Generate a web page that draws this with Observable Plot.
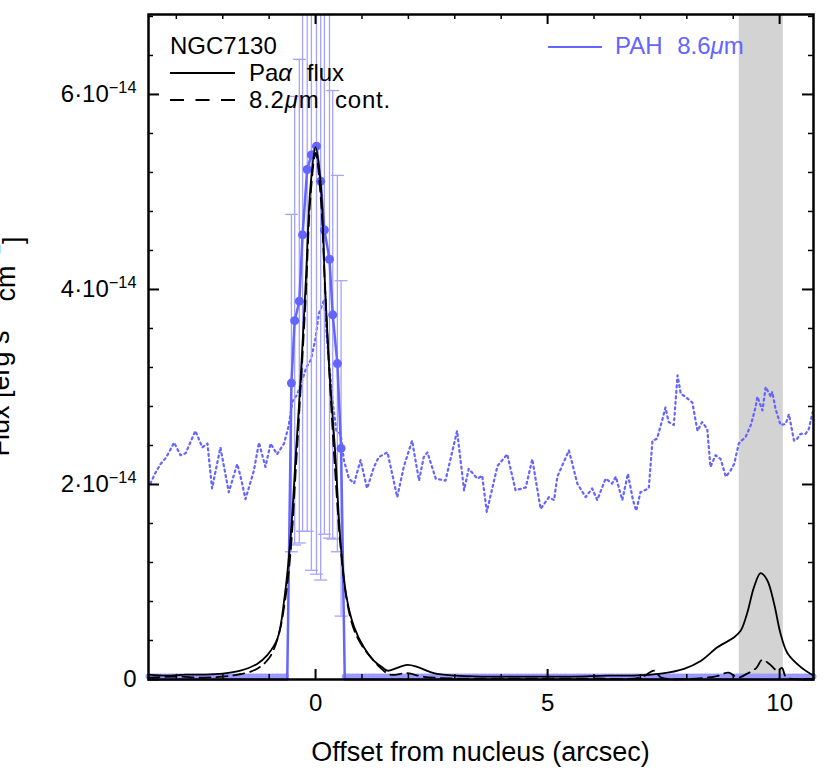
<!DOCTYPE html>
<html><head><meta charset="utf-8">
<script src="https://cdn.jsdelivr.net/npm/d3@7"></script>
<script src="https://cdn.jsdelivr.net/npm/@observablehq/plot@0.6"></script>
<style>body{margin:0;background:#fff}#chart{width:830px;height:772px}</style>
</head><body><div id="chart"></div>
<script>
// ---------- DATA (flux in units of 1e-14 erg s^-1 cm^-2, offsets in arcsec) ----------
const xDomain = [-3.6, 10.73];
const yDomain = [0, 6.82];
const xMajor = [0, 5, 10];
const xMinor = [-3, -2, -1, 1, 2, 3, 4, 6, 7, 8, 9];
const yMajor = [0, 2, 4, 6];
const yMinor = [0.4, 0.8, 1.2, 1.6, 2.4, 2.8, 3.2, 3.6, 4.4, 4.8, 5.2, 5.6, 6.4, 6.8];
const bandX1 = [9.13];
const bandX2 = [10.08];

// PAH 8.6um (blue, with errors)
const pahX   = [-3.60, -0.61, -0.52, -0.45, -0.35, -0.28, -0.18, -0.09, 0.02, 0.11, 0.19, 0.30, 0.37, 0.47, 0.55, 0.63, 10.73];
const pahY   = [0, 0, 3.04, 3.68, 3.88, 4.56, 5.23, 5.38, 5.47, 5.11, 4.61, 4.31, 3.74, 3.24, 2.37, 0, 0];
const pahErr = [0, 0, 1.73, 2.30, 2.48, 3.04, 3.71, 4.26, 4.39, 4.09, 3.12, 2.86, 2.30, 1.93, 1.72, 0, 0];

// Pa alpha flux (solid black)
const paaX = [-3.60,-3.20,-2.80,-2.40,-2.00,-1.62,-1.26,-1.04,-0.82,-0.67,-0.54,-0.42,-0.32,-0.21,-0.11,0.00,0.11,0.20,0.30,0.42,0.54,0.67,0.83,1.04,1.26,1.45,1.55,1.76,1.98,2.19,2.55,3.00,3.60,4.50,5.50,6.30,6.85,7.44,7.94,8.30,8.66,9.01,9.16,9.30,9.45,9.59,9.73,9.88,10.02,10.17,10.45,10.73];
const paaY = [0.05,0.04,0.05,0.05,0.06,0.09,0.16,0.25,0.42,0.84,1.45,2.35,3.10,4.09,5.05,5.46,5.09,4.09,3.15,2.35,1.40,0.84,0.54,0.33,0.19,0.12,0.09,0.12,0.15,0.13,0.065,0.04,0.03,0.03,0.03,0.04,0.04,0.06,0.11,0.19,0.33,0.43,0.50,0.68,0.95,1.09,1.02,0.78,0.47,0.27,0.13,0.04];

// 8.2um continuum (dashed black)
const contX = [-3.60,-3.00,-2.40,-1.80,-1.30,-1.00,-0.80,-0.66,-0.54,-0.42,-0.32,-0.21,-0.11,0.00,0.11,0.21,0.32,0.42,0.54,0.66,0.80,0.97,1.20,1.40,1.60,1.98,2.30,3.00,4.00,5.00,6.00,7.00,7.30,7.45,8.60,8.90,9.10,9.30,9.50,9.62,9.78,9.95,10.05,10.15,10.73];
const contY = [0.02,0.03,0.02,0.04,0.10,0.22,0.45,0.80,1.30,2.20,3.00,3.95,4.95,5.40,4.95,3.95,2.95,2.15,1.35,0.85,0.55,0.37,0.22,0.12,0.05,0.065,0.03,0.01,0.01,0.01,0.01,0.02,0.09,0.02,0.03,0.07,0.02,0.06,0.12,0.20,0.16,0.09,0.12,0.02,0.01];

// dotted blue profile
const dotX = [-3.56,-3.45,-3.34,-3.23,-3.17,-3.05,-2.91,-2.80,-2.59,-2.44,-2.33,-2.23,-2.05,-1.87,-1.69,-1.62,-1.51,-1.33,-1.22,-1.08,-0.97,-0.83,-0.68,-0.58,-0.50,-0.40,-0.30,-0.20,-0.10,0.00,0.07,0.18,0.28,0.38,0.45,0.54,0.61,0.72,0.83,0.97,1.11,1.26,1.36,1.55,1.76,1.90,2.08,2.23,2.33,2.41,2.59,2.80,3.05,3.20,3.30,3.49,3.59,3.69,3.92,4.13,4.31,4.53,4.67,4.85,5.03,5.14,5.21,5.46,5.64,5.82,5.96,6.07,6.25,6.39,6.47,6.61,6.73,6.84,6.91,7.00,7.18,7.26,7.36,7.47,7.54,7.61,7.72,7.80,7.87,7.97,8.12,8.23,8.33,8.44,8.51,8.62,8.73,8.84,8.94,9.02,9.12,9.27,9.38,9.48,9.52,9.63,9.70,9.81,9.84,9.91,10.02,10.13,10.20,10.31,10.38,10.45,10.56,10.63,10.71];
const dotY = [2.01,2.12,2.21,2.27,2.32,2.43,2.30,2.32,2.55,2.38,2.42,1.96,2.38,1.92,2.21,2.09,1.85,2.14,2.43,2.18,2.42,2.31,2.42,2.60,2.85,2.92,3.05,3.20,3.28,3.50,3.75,3.89,3.30,2.80,2.55,2.52,2.25,2.06,2.01,2.25,1.96,2.18,2.28,2.33,1.87,2.18,2.45,2.04,2.28,2.33,2.06,2.04,2.55,1.94,2.16,2.06,2.09,1.72,2.19,2.31,1.94,1.97,2.26,1.75,1.87,1.84,2.08,2.35,2.01,1.87,1.96,1.84,2.06,2.01,2.08,1.84,2.11,1.84,1.73,1.92,1.96,2.45,2.47,2.66,2.79,2.64,2.61,3.12,2.93,2.90,2.84,2.55,2.64,2.57,2.18,2.30,2.26,2.08,2.14,2.21,2.42,2.49,2.61,2.79,2.90,2.76,3.00,2.90,2.95,2.78,2.61,2.62,2.72,2.45,2.47,2.52,2.52,2.57,2.74];

// ---------- tables ----------
const BLUE = "#6464ff", ERRBLUE = "#a4a4ff";
const pah = pahX.map((x, i) => ({x, y: pahY[i], e: pahErr[i]}));
const pahPts = pah.filter(d => d.y > 0);
const pahZero = pah.map(d => ({...d, seg: d.x < 0 ? "L" : "R"})).filter(d => d.y === 0);
const paa = paaX.map((x, i) => ({x, y: paaY[i]}));
const cont = contX.map((x, i) => ({x, y: contY[i]}));
const dotted = dotX.map((x, i) => ({x, y: dotY[i]}));
const bands = bandX1.map((x1, i) => ({x1, x2: bandX2[i]}));

const W = 830, H = 772, mL = 148, mR = 17, mT = 14, mB = 93;
const innerW = W - mL - mR, innerH = H - mT - mB;
const capSymbol = {draw(ctx) { ctx.moveTo(-6.5, 0); ctx.lineTo(6.5, 0); }};
const fmtY = d => d === 0 ? "0" : `${d}·10^\u221214`;

const svg = Plot.plot({
  width: W, height: H, marginLeft: mL, marginRight: mR, marginTop: mT, marginBottom: mB,
  style: {fontFamily: "'Liberation Sans', Arial, sans-serif", fontSize: "24px", background: "#fff", color: "#000"},
  x: {domain: xDomain, label: null},
  y: {domain: yDomain, label: null},
  marks: [
    Plot.rect(bands, {x1: "x1", x2: "x2", y1: yDomain[0], y2: yDomain[1], fill: "#d3d3d3"}),
    Plot.line(dotted, {x: "x", y: "y", stroke: BLUE, strokeWidth: 2.2, strokeDasharray: "2,3.5", clip: true}),
    Plot.ruleX(pahPts, {x: "x", y1: d => d.y - d.e, y2: d => d.y + d.e, stroke: ERRBLUE, strokeWidth: 1.3, clip: true}),
    Plot.dot(pahPts, {x: "x", y: d => d.y + d.e, symbol: capSymbol, stroke: ERRBLUE, fill: "none", strokeWidth: 1.3, clip: true}),
    Plot.dot(pahPts, {x: "x", y: d => d.y - d.e, symbol: capSymbol, stroke: ERRBLUE, fill: "none", strokeWidth: 1.3, clip: true}),
    Plot.line(pahZero, {x: "x", y: "y", z: "seg", stroke: "#9a9aff", strokeWidth: 6, strokeDasharray: "1.2,2.8", dy: -3}),
    Plot.line(pah, {x: "x", y: "y", stroke: BLUE, strokeWidth: 2.5}),
    Plot.dot(pahPts, {x: "x", y: "y", r: 4.5, fill: BLUE, stroke: "none"}),
    Plot.line(paa, {x: "x", y: "y", stroke: "#000", strokeWidth: 1.8, curve: "catmull-rom"}),
    Plot.line(cont, {x: "x", y: "y", stroke: "#000", strokeWidth: 1.8, strokeDasharray: "11,6", curve: "catmull-rom"}),
    Plot.frame({stroke: "#000", strokeWidth: 2.5}),
    // inward ticks
    Plot.tickX(xMajor, {x: d => d, insetTop: innerH - 10, stroke: "#000", strokeWidth: 2}),
    Plot.tickX(xMajor, {x: d => d, insetBottom: innerH - 10, stroke: "#000", strokeWidth: 2}),
    Plot.tickX(xMinor, {x: d => d, insetTop: innerH - 5, stroke: "#000", strokeWidth: 1.5}),
    Plot.tickX(xMinor, {x: d => d, insetBottom: innerH - 5, stroke: "#000", strokeWidth: 1.5}),
    Plot.tickY(yMajor, {y: d => d, insetRight: innerW - 11, stroke: "#000", strokeWidth: 2}),
    Plot.tickY(yMajor, {y: d => d, insetLeft: innerW - 11, stroke: "#000", strokeWidth: 2}),
    Plot.tickY(yMinor, {y: d => d, insetRight: innerW - 5, stroke: "#000", strokeWidth: 1.5}),
    Plot.tickY(yMinor, {y: d => d, insetLeft: innerW - 5, stroke: "#000", strokeWidth: 1.5}),
    Plot.axisX({ticks: xMajor, tickSize: 0, tickPadding: 14, tickFormat: d => String(d), fontSize: 24, label: null}),
    Plot.axisY({ticks: yMajor, tickSize: 0, tickPadding: 12, tickFormat: fmtY, fontSize: 24, label: null})
  ]
});

const s = d3.select(svg);
// superscripts in y tick labels
s.selectAll("text").each(function () {
  const t = this.textContent;
  if (t.includes("^")) {
    const [base, exp] = t.split("^");
    const el = d3.select(this);
    el.text(base);
    el.append("tspan").attr("dy", "-0.55em").attr("font-size", "0.68em").text(exp);
  }
});

const FONT = "'Liberation Sans', Arial, sans-serif";
// axis titles
s.append("text").attr("x", (mL + W - mR) / 2).attr("y", 761).attr("text-anchor", "middle")
  .attr("font-family", FONT).attr("font-size", 27).attr("fill", "#000").text("Offset from nucleus (arcsec)");
const yt = s.append("text").attr("transform", `translate(9,${(mT + H - mB) / 2}) rotate(-90)`).attr("text-anchor", "middle")
  .attr("font-family", FONT).attr("font-size", 27).attr("fill", "#000");
yt.append("tspan").text("Flux [erg s");
yt.append("tspan").attr("dy", "-0.8em").attr("font-size", "0.7em").text("\u22121");
yt.append("tspan").attr("dy", "0.8em").text(" cm");
yt.append("tspan").attr("dy", "-0.8em").attr("font-size", "0.7em").text("\u22122");
yt.append("tspan").attr("dy", "0.8em").text("]");

// legend
const lg = s.append("g").attr("font-family", FONT).attr("font-size", 24).attr("text-anchor", "start");
lg.append("text").attr("x", 170).attr("y", 54).attr("text-anchor", "start").attr("fill", "#000").text("NGC7130");
lg.append("line").attr("x1", 170).attr("x2", 235).attr("y1", 73).attr("y2", 73).attr("stroke", "#000").attr("stroke-width", 2);
const t1 = lg.append("text").attr("x", 249).attr("y", 81).attr("text-anchor", "start").attr("fill", "#000").attr("word-spacing", 8);
t1.append("tspan").text("Pa");
t1.append("tspan").attr("font-style", "italic").text("\u03B1");
t1.append("tspan").text(" flux");
lg.append("line").attr("x1", 170).attr("x2", 235).attr("y1", 100).attr("y2", 100).attr("stroke", "#000").attr("stroke-width", 2).attr("stroke-dasharray", "14,11.5");
const t2 = lg.append("text").attr("x", 249).attr("y", 108).attr("text-anchor", "start").attr("fill", "#000").attr("word-spacing", 8).attr("letter-spacing", 0.8);
t2.append("tspan").text("8.2");
t2.append("tspan").attr("font-style", "italic").text("\u03BC");
t2.append("tspan").text("m cont.");
lg.append("line").attr("x1", 548).attr("x2", 602).attr("y1", 47).attr("y2", 47).attr("stroke", BLUE).attr("stroke-width", 2);
const t3 = lg.append("text").attr("x", 615).attr("y", 54).attr("text-anchor", "start").attr("fill", BLUE).attr("word-spacing", 8);
t3.append("tspan").text("PAH 8.6");
t3.append("tspan").attr("font-style", "italic").text("\u03BC");
t3.append("tspan").text("m");

document.getElementById("chart").append(svg);
</script>
</body></html>
